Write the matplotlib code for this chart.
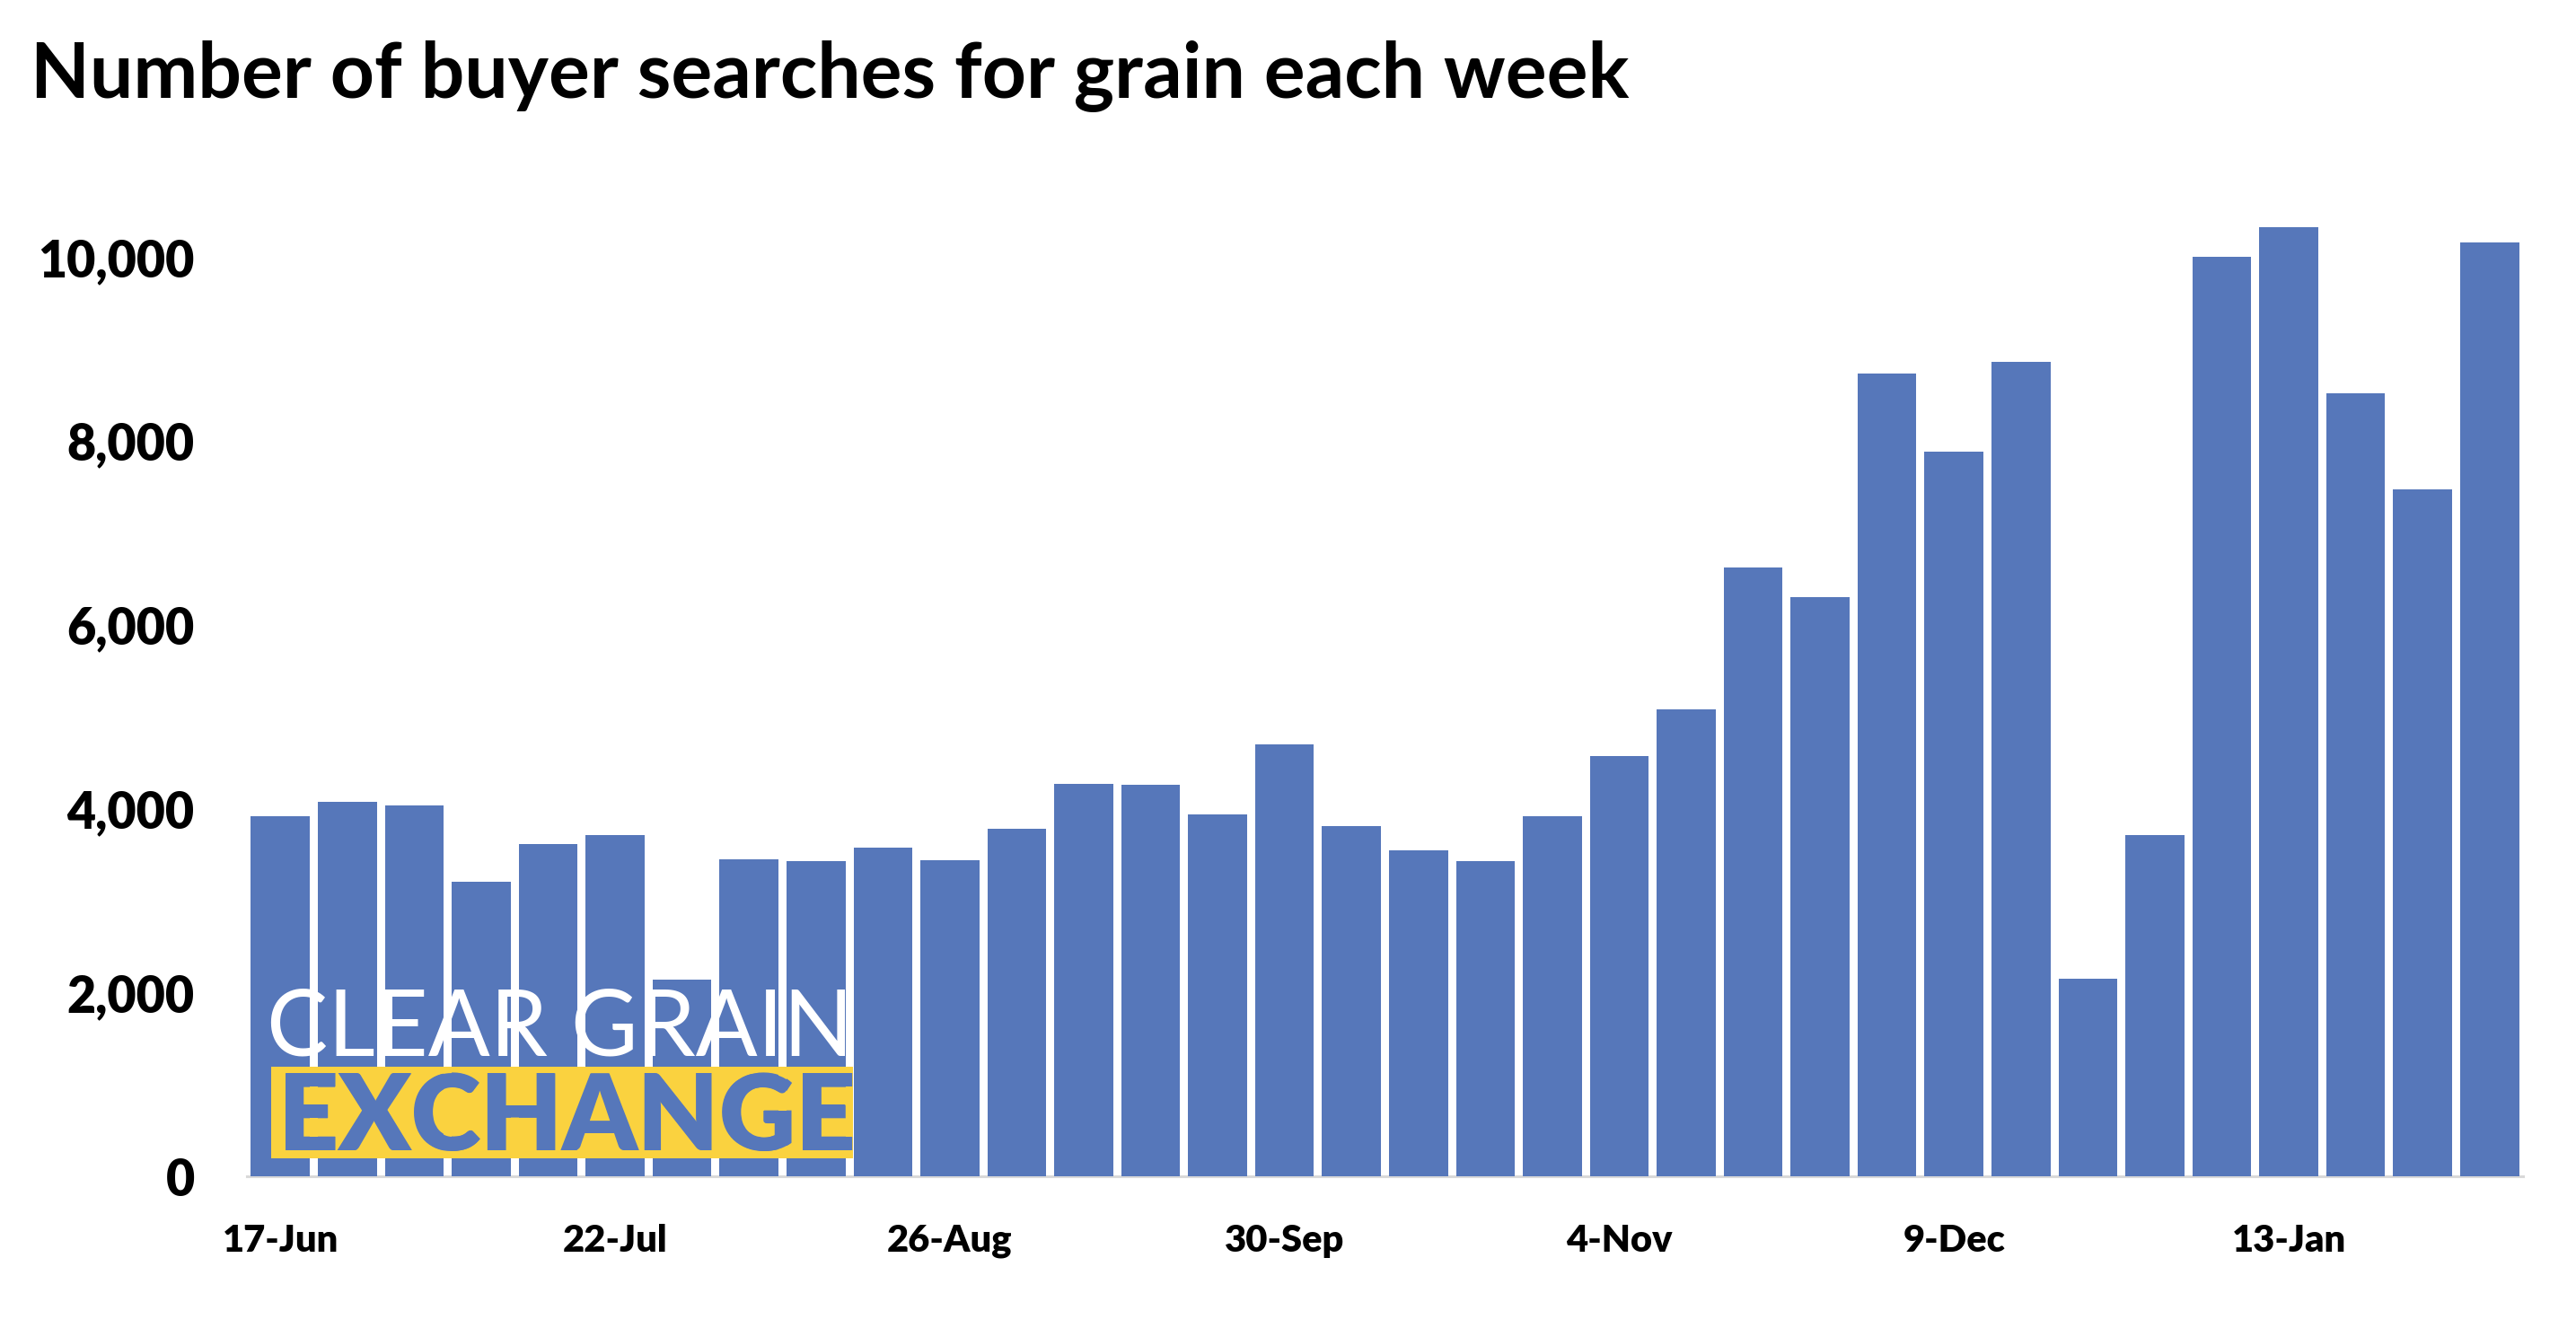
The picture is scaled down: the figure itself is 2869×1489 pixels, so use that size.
import numpy as np
import matplotlib.pyplot as plt
from matplotlib.patches import Rectangle
from matplotlib.textpath import TextPath
from matplotlib.font_manager import FontProperties
from matplotlib.transforms import Affine2D, IdentityTransform
from matplotlib.ticker import FuncFormatter

# weekly data
weeks = ["17-Jun", "24-Jun", "1-Jul", "8-Jul", "15-Jul", "22-Jul", "29-Jul",
         "5-Aug", "12-Aug", "19-Aug", "26-Aug", "2-Sep", "9-Sep", "16-Sep",
         "23-Sep", "30-Sep", "7-Oct", "14-Oct", "21-Oct", "28-Oct", "4-Nov",
         "11-Nov", "18-Nov", "25-Nov", "2-Dec", "9-Dec", "16-Dec", "23-Dec",
         "30-Dec", "6-Jan", "13-Jan", "20-Jan", "27-Jan", "3-Feb"]
searches = [3920, 4070, 4030, 3200, 3610, 3710, 2140, 3450, 3430, 3580,
            3440, 3780, 4270, 4260, 3940, 4700, 3810, 3550, 3430, 3920,
            4570, 5080, 6620, 6300, 8730, 7880, 8860, 2150, 3710, 10000,
            10330, 8520, 7470, 10160]
label_every = 5
y_ticks = [0, 2000, 4000, 6000, 8000, 10000]

title = "Number of buyer searches for grain each week"
logo_top = "CLEAR GRAIN"
logo_bottom = "EXCHANGE"

bar_blue = "#5677BA"
logo_yellow = "#FAD23F"

W, H, DPI = 2869, 1489, 100
plt.rcParams['font.family'] = ['Lato', 'DejaVu Sans']

fig = plt.figure(figsize=(W / DPI, H / DPI), dpi=DPI)
ax = fig.add_axes([275 / W, 179 / H, (2810 - 275) / W, (1305 - 179) / H])

x = np.arange(len(searches))
ax.bar(x, searches, width=0.88, color=bar_blue, zorder=2)
ax.set_xlim(-0.5, len(searches) - 0.5)
ax.set_ylim(0, 11000)

ax.set_xticks(x[::label_every])
ax.set_xticklabels(weeks[::label_every])
ax.set_yticks(y_ticks)
ax.yaxis.set_major_formatter(FuncFormatter(lambda v, p: f"{int(v):,}"))
ax.tick_params(axis='x', length=0, pad=38, labelsize=30)
ax.tick_params(axis='y', length=0, pad=42, labelsize=40)
for lab in ax.get_xticklabels() + ax.get_yticklabels():
    lab.set_fontweight('heavy')

for s in ['left', 'right', 'top']:
    ax.spines[s].set_visible(False)
ax.spines['bottom'].set_color('#D9D9D9')
ax.spines['bottom'].set_linewidth(2.2)
ax.spines['bottom'].set_zorder(1)


def fit_text(s, prop, left, right):
    # font size (in px) and origin so the ink spans left..right
    tp = TextPath((0, 0), s, size=100, prop=prop)
    ext = tp.get_extents()
    k = (right - left) / ext.width
    return 100 * k, left - ext.x0 * k


# title
tprop = FontProperties(family='Lato', weight='bold')
size_px, x0 = fit_text(title, tprop, 41, 1812)
fig.text(x0 / W, 1 - 109 / H, title, fontsize=size_px * 72 / DPI,
         fontweight='bold', va='baseline', ha='left')

# logo: yellow band with knocked-out letters
ax.add_patch(Rectangle((302, H - 1290), 648, 102, transform=IdentityTransform(),
                       facecolor=logo_yellow, edgecolor='none', zorder=3))

bprop = FontProperties(family='Lato', weight='heavy')
size_px, x0 = fit_text(logo_bottom, bprop, 318, 950)
base_y = H - 1281
ax.text(x0, base_y, logo_bottom, transform=IdentityTransform(),
        fontsize=size_px * 72 / DPI, fontweight='heavy', color=bar_blue,
        ha='left', va='baseline', zorder=3.5)
ex_path = TextPath((0, 0), logo_bottom, size=size_px, prop=bprop)
clip_tf = Affine2D().translate(x0, base_y)
knock = ax.bar(x, searches, width=0.88, color=bar_blue, zorder=4)
for p in knock:
    p.set_clip_path(ex_path, clip_tf)

cprop = FontProperties(family='Lato', weight='normal')
size_px, x0 = fit_text(logo_top, cprop, 302, 941)
ax.text(x0, H - 1175, logo_top, transform=IdentityTransform(),
        fontsize=size_px * 72 / DPI, color='white',
        ha='left', va='baseline', zorder=5)

fig.savefig("out.png", dpi=DPI, facecolor='white')
